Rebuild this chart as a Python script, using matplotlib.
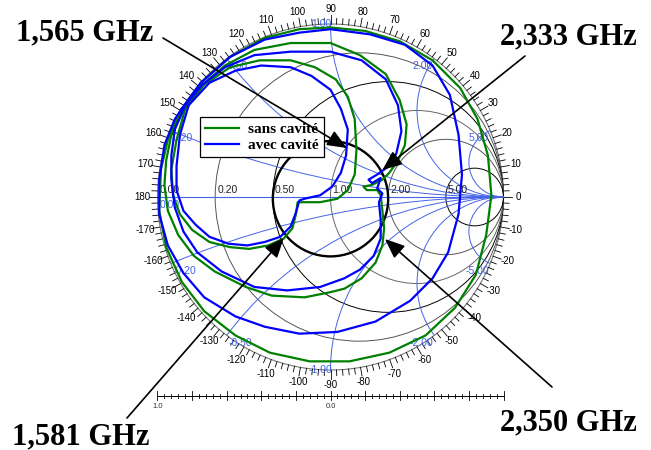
import numpy as np
import matplotlib.pyplot as plt
from matplotlib.patches import Circle

# ---- chart values (reflection coefficient Re / Im) ----
r_values = [0.2, 0.5, 1.0, 2.0, 5.0]          # constant resistance circles
x_values = [0.2, 0.5, 1.0, 2.0, 5.0]          # constant reactance arcs (+/-)
deg_ticks = list(range(-170, 190, 10))        # angle labels round the chart
scale_ticks = [-1.0, 0.0]                     # bottom |Gamma| scale labels
scale_text = ['1.0', '0.0']

# "sans cavite" (green), three loops
g_outer_re = [-0.87, -0.75, -0.58, -0.38, -0.18, 0.00, 0.20, 0.40, 0.59, 0.75, 0.85, 0.91, 0.93, 0.90,
              0.84, 0.72, 0.55, 0.34, 0.11, -0.12, -0.35, -0.55, -0.73, -0.86, -0.95, -0.99, -0.98, -0.94]
g_outer_im = [0.49, 0.66, 0.81, 0.92, 0.97, 0.98, 0.96, 0.90, 0.79, 0.63, 0.45, 0.24, 0.01, -0.22,
              -0.45, -0.64, -0.80, -0.90, -0.95, -0.95, -0.90, -0.80, -0.66, -0.49, -0.29, -0.08, 0.16, 0.33]
g_mid_re = [-0.92, -0.85, -0.75, -0.61, -0.44, -0.23, 0.00, 0.17, 0.32, 0.40, 0.44, 0.43, 0.39, 0.34,
            0.30, 0.24, 0.19, 0.21, 0.27, 0.29, 0.30, 0.31, 0.30, 0.26, 0.18, 0.08, 0.00, -0.15,
            -0.34, -0.49, -0.67, -0.79, -0.88, -0.94, -0.96, -0.95]
g_mid_im = [0.36, 0.50, 0.64, 0.76, 0.85, 0.89, 0.89, 0.82, 0.71, 0.56, 0.42, 0.30, 0.21, 0.14,
            0.10, 0.07, 0.06, 0.04, 0.04, 0.01, -0.08, -0.18, -0.28, -0.38, -0.47, -0.53, -0.55, -0.58,
            -0.57, -0.52, -0.43, -0.34, -0.22, -0.08, 0.07, 0.21]
g_in_re = [-0.84, -0.73, -0.58, -0.41, -0.23, -0.09, 0.03, 0.10, 0.14, 0.15, 0.14, 0.10, 0.04, -0.06,
           -0.19, -0.20, -0.22, -0.27, -0.36, -0.47, -0.58, -0.70, -0.80, -0.87, -0.91, -0.92, -0.89]
g_in_im = [0.51, 0.65, 0.75, 0.79, 0.79, 0.75, 0.68, 0.58, 0.45, 0.27, 0.13, 0.04, -0.01, -0.03,
           -0.03, -0.10, -0.18, -0.24, -0.28, -0.30, -0.29, -0.26, -0.19, -0.10, 0.01, 0.16, 0.33]

# "avec cavite" (blue), three loops
b_outer_re = [-0.86, -0.75, -0.58, -0.38, -0.18, 0.00, 0.23, 0.43, 0.59, 0.69, 0.74, 0.76, 0.74, 0.68,
              0.59, 0.46, 0.26, 0.04, -0.18, -0.38, -0.55, -0.73, -0.85, -0.94, -0.99, -0.99, -0.96, -0.90]
b_outer_im = [0.51, 0.66, 0.81, 0.91, 0.95, 0.97, 0.94, 0.88, 0.76, 0.59, 0.36, 0.13, -0.10, -0.32,
              -0.47, -0.60, -0.72, -0.78, -0.79, -0.75, -0.69, -0.58, -0.44, -0.28, -0.10, 0.10, 0.30, 0.45]
b_mid_re = [-0.90, -0.84, -0.74, -0.61, -0.44, -0.23, 0.00, 0.18, 0.32, 0.39, 0.41, 0.38, 0.34, 0.27,
            0.22, 0.24, 0.29, 0.27, 0.30, 0.28, 0.29, 0.29, 0.25, 0.17, 0.08, -0.06, -0.25, -0.44,
            -0.63, -0.77, -0.85, -0.90, -0.92, -0.92]
b_mid_im = [0.39, 0.53, 0.65, 0.75, 0.82, 0.84, 0.84, 0.79, 0.68, 0.53, 0.38, 0.25, 0.18, 0.13,
            0.10, 0.08, 0.11, 0.05, 0.02, -0.03, -0.13, -0.24, -0.34, -0.42, -0.47, -0.52, -0.54, -0.52,
            -0.43, -0.32, -0.20, -0.06, 0.10, 0.24]
b_in_re = [-0.82, -0.70, -0.55, -0.40, -0.23, -0.11, 0.00, 0.06, 0.10, 0.09, 0.06, 0.01, -0.06, -0.15,
           -0.18, -0.20, -0.23, -0.29, -0.38, -0.48, -0.59, -0.70, -0.78, -0.85, -0.89, -0.89, -0.87]
b_in_im = [0.53, 0.66, 0.73, 0.76, 0.75, 0.70, 0.62, 0.51, 0.39, 0.24, 0.14, 0.06, 0.01, -0.01,
           -0.02, -0.09, -0.17, -0.23, -0.26, -0.28, -0.27, -0.23, -0.16, -0.08, 0.04, 0.18, 0.36]

# frequency markers (where the arrows point)
mark_freq = ['1,565 GHz', '2,333 GHz', '1,581 GHz', '2,350 GHz']
mark_re = [0.095, 0.30, -0.27, 0.315]
mark_im = [0.283, 0.156, -0.237, -0.243]

vswr = 2.0

# ---- figure: one axes over the whole picture, 173 px per unit of Gamma ----
W, H, R, CX, CY = 651, 450, 173.0, 330.5, 197.0
def px(x, y):
    return ((x - CX) / R, (CY - y) / R)

plt.rcParams['font.family'] = ['Liberation Sans', 'DejaVu Sans']
fig = plt.figure(figsize=(W / 100, H / 100), dpi=100)
ax = fig.add_axes([0, 0, 1, 1])
ax.set_xlim(-CX / R, (W - CX) / R)
ax.set_ylim((CY - H) / R, CY / R)
ax.axis('off')

blue_grid = '#4463e6'
unit = Circle((0, 0), 1.0, fill=False, ec='#777777', lw=0.8, zorder=2)
ax.add_patch(unit)

# resistance circles
r_cols = ['#555555', 'black', '#666666', '#555555', 'black']
for r, c in zip(r_values, r_cols):
    ax.add_patch(Circle((r / (1 + r), 0), 1 / (1 + r), fill=False, ec=c, lw=0.7, zorder=2))
    ax.annotate('%.2f' % r, ((r - 1) / (r + 1), 0), xytext=(1.5, 1.5), textcoords='offset points',
                ha='left', va='bottom', fontsize=7.5, color='#222222', zorder=3)
ax.annotate('0.00', (-1, 0), xytext=(1.5, 1.5), textcoords='offset points',
            ha='left', va='bottom', fontsize=7.5, color='#222222', zorder=3)
ax.annotate('0.00', (-1, 0), xytext=(1.5, -2), textcoords='offset points',
            ha='left', va='top', fontsize=7.5, color=blue_grid, zorder=3)

# reactance arcs
ax.plot([-1, 1], [0, 0], color=blue_grid, lw=0.8, zorder=2)
for x in x_values:
    for s in (1, -1):
        arc = Circle((1, s / x), 1 / x, fill=False, ec=blue_grid, lw=0.7, zorder=2)
        ax.add_patch(arc)
        arc.set_clip_path(unit)
        g = (1j * s * x - 1) / (1j * s * x + 1)
        if abs(g.real) < 1e-6:
            ha, dx, va, dy = 'right', 1, 'center', 0
        elif g.real < 0:
            ha, dx, va, dy = 'left', 1, 'top', -2
        else:
            ha, dx, va, dy = 'right', -1, 'top', -2
        ax.annotate('%.2f' % (s * x), (g.real, g.imag), xytext=(dx, dy), textcoords='offset points',
                    ha=ha, va=va, fontsize=7.5, color=blue_grid, zorder=3)

# angle ring
for d in range(-178, 182, 2):
    t = np.radians(d)
    L = 0.05 if d % 10 == 0 else 0.033
    ax.plot([np.cos(t), (1 + L) * np.cos(t)], [np.sin(t), (1 + L) * np.sin(t)],
            color='black', lw=0.6, zorder=2)
for d in deg_ticks:
    t = np.radians(d)
    ax.text(1.088 * np.cos(t), 1.088 * np.sin(t), str(d), ha='center', va='center',
            fontsize=7, color='black')

# bottom scale
ys = -1.15
ax.plot([-1, 1], [ys, ys], color='black', lw=0.7)
for v in np.linspace(-1, 1, 51):
    L = 0.026 if abs(v * 5 - round(v * 5)) < 1e-6 else 0.013
    ax.plot([v, v], [ys - L, ys + L], color='black', lw=0.6)
for v, s in zip(scale_ticks, scale_text):
    ax.text(v, ys - 0.062, s, ha='center', va='center', fontsize=5.5, color='#333333')

# VSWR circle
gam = (vswr - 1) / (vswr + 1)
ax.add_patch(Circle((0, -0.01), gam, fill=False, ec='black', lw=1.7, zorder=4))

# measured curves
def loop(re, im):
    return list(re) + [re[0]], list(im) + [im[0]]

for re, im in [(g_outer_re, g_outer_im), (g_mid_re, g_mid_im), (g_in_re, g_in_im)]:
    a, b = loop(re, im)
    lg, = ax.plot(a, b, color='#008000', lw=1.6, zorder=5, solid_joinstyle='round')
for re, im in [(b_outer_re, b_outer_im), (b_mid_re, b_mid_im), (b_in_re, b_in_im)]:
    a, b = loop(re, im)
    lb, = ax.plot(a, b, color='#0000ff', lw=1.6, zorder=5, solid_joinstyle='round')

leg = ax.legend([lg, lb], ['sans cavité', 'avec cavité'], loc='upper left',
                bbox_to_anchor=(200 / W, 1 - 117 / H), borderaxespad=0, fancybox=False,
                edgecolor='black', framealpha=1, handlelength=2.2, handletextpad=0.6,
                labelspacing=0.15, borderpad=0.35,
                prop={'family': 'Liberation Serif', 'weight': 'bold', 'size': 11})
leg.get_frame().set_linewidth(0.9)
leg.set_zorder(6)

# arrows and frequency labels
starts = [px(163, 38), px(525, 56), px(127, 418), px(552, 387)]
text_pos = [px(85, 40), px(568, 44), px(81, 444), px(568, 430)]
for f, re, im, st, tp in zip(mark_freq, mark_re, mark_im, starts, text_pos):
    ax.annotate('', xy=(re, im), xytext=st,
                arrowprops=dict(arrowstyle='-|>,head_length=0.6,head_width=0.25', mutation_scale=20,
                                color='black', lw=1.2, shrinkA=0, shrinkB=0), zorder=7)
    ax.text(tp[0], tp[1], f, ha='center', va='baseline', fontsize=22,
            family='Liberation Serif', weight='bold', zorder=8)

fig.savefig('out.png', dpi=100)
